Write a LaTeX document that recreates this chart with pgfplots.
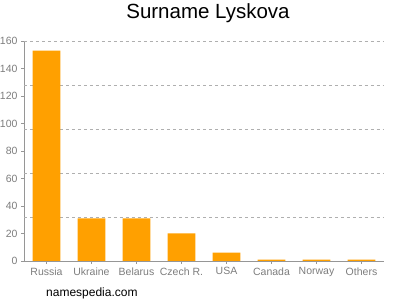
\documentclass[border=0pt]{standalone}
\usepackage{pgfplots}
\pgfplotsset{compat=1.18}
\usepackage{fontspec}
\setmainfont{Liberation Sans}
\definecolor{barorange}{RGB}{255,160,0}
\definecolor{ticklabel}{RGB}{125,125,125}
\definecolor{axisgray}{RGB}{150,150,150}
\definecolor{gridgray}{RGB}{175,175,175}
\begin{document}
\begin{tikzpicture}
\useasboundingbox (0,0) rectangle (400bp,300bp);
\begin{axis}[
  at={(24bp,39bp)}, anchor=south west,
  scale only axis, width=360bp, height=220bp,
  xmin=-0.5, xmax=7.5, ymin=0, ymax=160,
  axis lines*=left,
  axis line style={axisgray},
  xtick={0,...,7},
  xticklabels={Russia,Ukraine,Belarus,Czech R.,USA,Canada,Norway,Others},
  ytick={0,20,...,160},
  extra y ticks={32,64,96,128,160},
  extra y tick labels={},
  extra y tick style={grid=major, major tick length=0pt},
  major grid style={dashed, gridgray, line width=0.5pt},
  tick style={axisgray},
  tick align=outside,
  major tick length=3bp,
  ticklabel style={font=\fontsize{10.5bp}{12bp}\selectfont, text=ticklabel},
  /pgf/number format/assume math mode=true,
  ybar, bar width=0.62,
  clip=false,
]
\addplot[fill=barorange, draw=none] coordinates {
  (0,153) (1,31) (2,31) (3,20) (4,6) (5,1) (6,1) (7,1)
};
\end{axis}
\node[anchor=base, font=\fontsize{20.5bp}{24bp}\selectfont] at (208bp,281bp) {Surname Lyskova};
\node[anchor=base west, font=\fontsize{12bp}{14bp}\selectfont, inner sep=0pt] at (46bp,4bp) {namespedia.com};
\end{tikzpicture}
\end{document}
